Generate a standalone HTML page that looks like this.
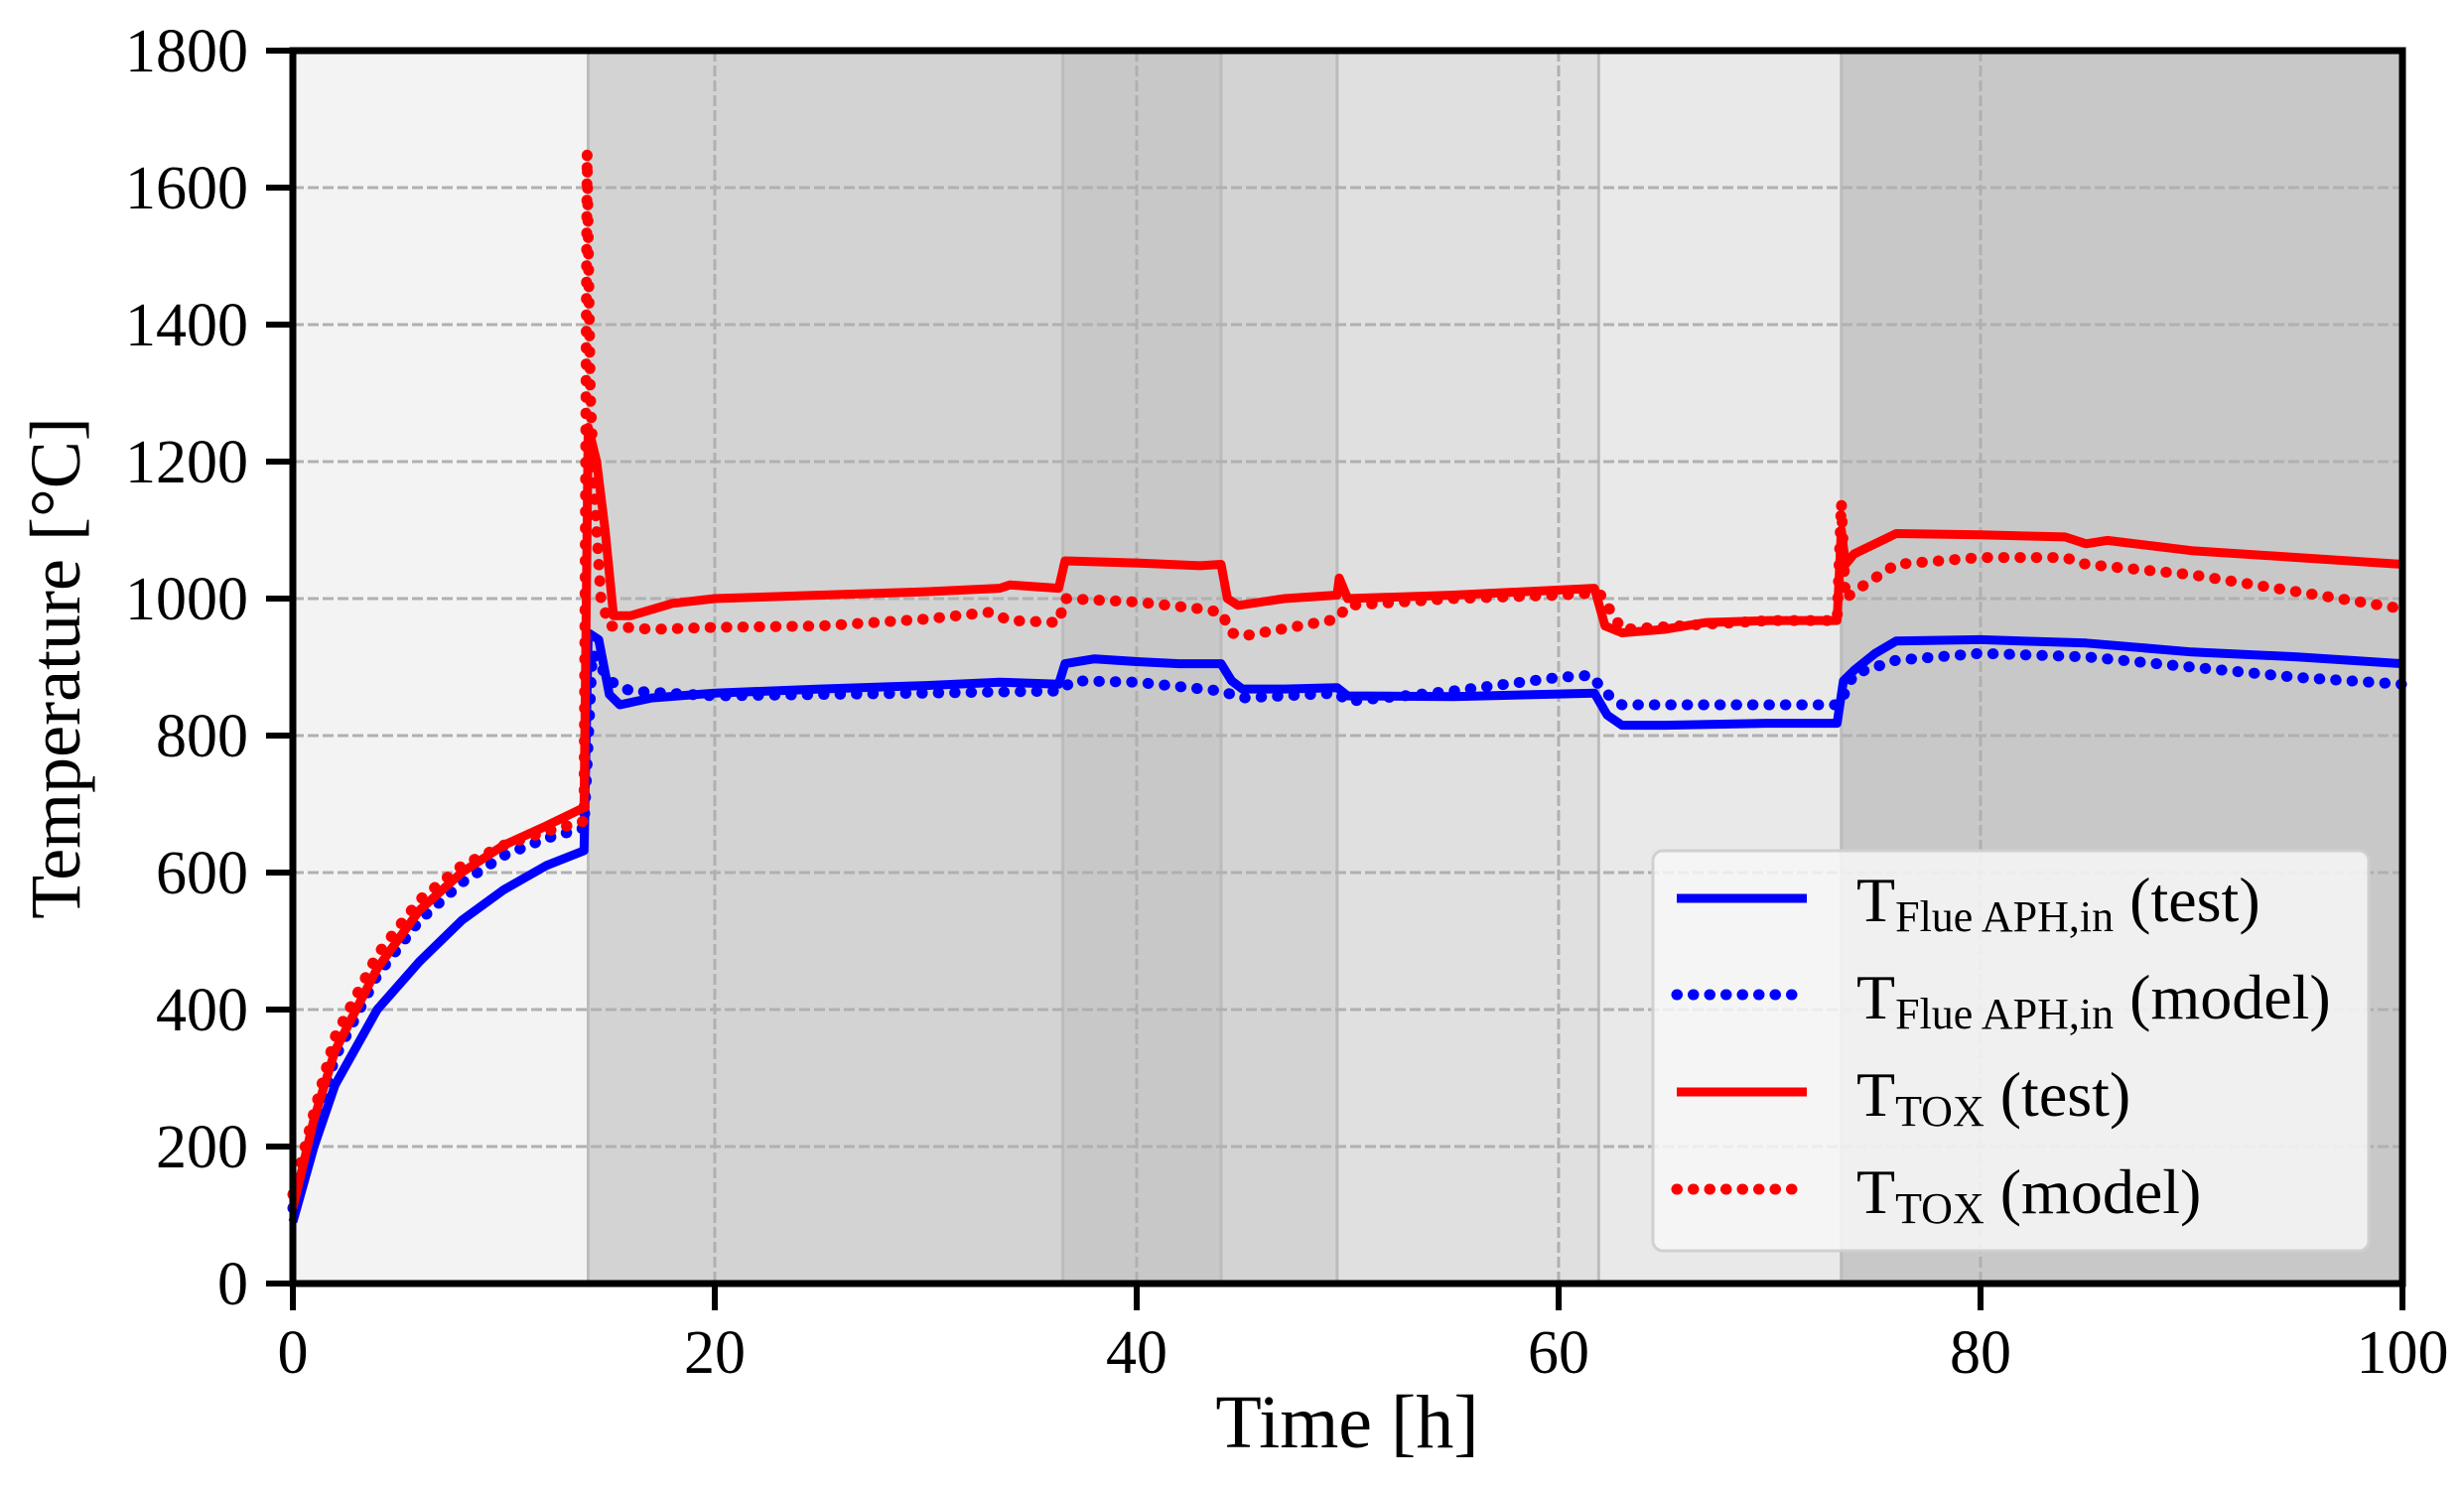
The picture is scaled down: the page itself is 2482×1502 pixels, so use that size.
<!DOCTYPE html>
<html><head><meta charset="utf-8"><style>
body{margin:0;background:#fff;}
svg{display:block;font-family:"Liberation Serif",serif;}
</style></head><body>
<svg id="chart" width="2482" height="1502" viewBox="0 0 2482 1502">
<g id="bands"></g>
<g id="grid"></g>
<g id="series"></g>
<g id="axes"></g>
<text x="1357" y="1458" font-size="76" text-anchor="middle">Time [h]</text>
<text transform="translate(80,673) rotate(-90)" font-size="72" text-anchor="middle">Temperature [°C]</text>
<g>
<rect x="1665" y="857" width="721" height="403" rx="10" fill="#f7f7f7" fill-opacity="0.85" stroke="#d0d0d0" stroke-width="3"/>
<g>
<line x1="1689" y1="905" x2="1820" y2="905" stroke="#0000ff" stroke-width="9"/>
<text x="1870" y="928" font-size="64">T<tspan font-size="44" dy="10">Flue APH,in</tspan><tspan dy="-10"> (test)</tspan></text></g>
<g>
<line x1="1689" y1="1002" x2="1820" y2="1002" stroke="#0000ff" stroke-width="11" stroke-dasharray="0.5 16" stroke-linecap="round"/>
<text x="1870" y="1026" font-size="64">T<tspan font-size="44" dy="10">Flue APH,in</tspan><tspan dy="-10"> (model)</tspan></text></g>
<g>
<line x1="1689" y1="1100" x2="1820" y2="1100" stroke="#ff0000" stroke-width="9"/>
<text x="1870" y="1124" font-size="64">T<tspan font-size="44" dy="10">TOX</tspan><tspan dy="-10"> (test)</tspan></text></g>
<g>
<line x1="1689" y1="1198" x2="1820" y2="1198" stroke="#ff0000" stroke-width="11" stroke-dasharray="0.5 16" stroke-linecap="round"/>
<text x="1870" y="1222" font-size="64">T<tspan font-size="44" dy="10">TOX</tspan><tspan dy="-10"> (model)</tspan></text></g>
</g>
</svg>
<script>
const xTicks=[0,20,40,60,80,100];
const yTicks=[0,200,400,600,800,1000,1200,1400,1600,1800];
const bandStarts=[0,14,36.5,44,49.5,61.9,73.4];
const bandEnds=[14,36.5,44,49.5,61.9,73.4,100];
const bandColors=["#f3f3f3","#d3d3d3","#c8c8c8","#d3d3d3","#e0e0e0","#e9e9e9","#c8c8c8"];
const flueTestT=[0,1,2,4,6,8,10,12,13.8,14,14.5,15,15.5,17,20,25,30,33.5,36.3,36.6,38,40,42,44,44.5,45,47,49.5,50,55,61.7,62.3,63,65,70,73.2,73.5,74,75,76,80,85,90,95,100];
const flueTestV=[90,200,290,400,470,530,575,610,632,950,940,860,845,855,862,868,873,878,875,905,912,908,905,905,880,868,868,870,858,857,862,830,815,815,818,818,880,895,920,938,940,935,922,915,905];
const flueModelT=[0,1,2,4,6,8,10,12,13.8,14.2,15,16,20,25,30,36.3,37,40,44,45,49.5,50,55,60,61.5,62.5,63,65,73.3,74,76,80,85,90,95,100];
const flueModelV=[110,230,330,450,530,585,625,650,665,920,880,865,858,860,862,865,880,878,865,855,862,850,865,885,888,855,845,845,845,890,910,920,915,900,885,875];
const toxTestT=[0,1,2,4,6,8,10,12,13.8,14,14.4,14.8,15.2,16,18,20,25,30,33.5,34,36.3,36.6,40,43,44,44.3,44.8,47,49.5,49.6,50,55,61.7,62.2,63,65,67,70,73.2,73.4,73.6,74,76,80,84,85,86,90,95,100];
const toxTestV=[110,240,340,460,545,600,640,668,695,1250,1200,1100,975,975,993,1000,1005,1010,1015,1020,1015,1055,1052,1048,1050,1000,990,1000,1005,1030,1000,1005,1015,960,950,955,965,968,968,1100,1050,1065,1095,1093,1090,1080,1085,1070,1060,1050];
const toxModelT=[0,1,2,4,6,8,10,12,13.8,13.95,14.1,14.3,14.6,15,17,20,25,30,33,34,36.3,36.6,40,43,44,44.5,45,49.5,50,55,60,61.7,62,63,70,73.2,73.4,73.6,74,76,80,84,85,90,95,100];
const toxModelV=[130,250,360,480,560,610,640,660,675,1650,1300,1150,1000,960,955,958,960,970,980,968,965,1000,995,985,980,950,945,970,990,1000,1005,1008,1005,955,968,968,1140,1000,1010,1050,1060,1060,1050,1035,1010,985];

const X0=295,X1=2420,Y0=1293,Y1=51;
const NS="http://www.w3.org/2000/svg";
function xs(t){return X0+(t-0)/(100-0)*(X1-X0);}
function ys(v){return Y0-(v-0)/(1800-0)*(Y0-Y1);}
function mk(tag,attrs,parent){const e=document.createElementNS(NS,tag);for(const k in attrs)e.setAttribute(k,attrs[k]);parent.appendChild(e);return e;}
const bands=document.getElementById('bands'),grid=document.getElementById('grid'),series=document.getElementById('series'),axes=document.getElementById('axes');
bandStarts.forEach((s,i)=>{
  const r=mk('rect',{x:xs(s),y:Y1,width:xs(bandEnds[i])-xs(s),height:Y0-Y1,fill:bandColors[i]},bands);
  
  
  if(i>0){const l=mk('line',{x1:xs(s),y1:Y1,x2:xs(s),y2:Y0,stroke:"#bcbcbc","stroke-width":3},bands);
  
  }
});
xTicks.forEach(t=>{
  if(t>0&&t<100){const g=mk('line',{x1:xs(t),y1:Y1,x2:xs(t),y2:Y0,stroke:"#b0b0b0","stroke-width":3,"stroke-dasharray":"11 4"},grid);
  
  }
});
yTicks.forEach(v=>{
  if(v>0&&v<1800){const g=mk('line',{x1:X0,y1:ys(v),x2:X1,y2:ys(v),stroke:"#b0b0b0","stroke-width":3,"stroke-dasharray":"11 4"},grid);
  
  }
});
function path(T,V,color,dotted,name){
  const d=T.map((t,i)=>(i?'L':'M')+xs(t).toFixed(1)+' '+ys(V[i]).toFixed(1)).join(' ');
  const a={d:d,fill:"none",stroke:color,"stroke-width":dotted?11:9,"stroke-linejoin":"round"};
  if(dotted){a["stroke-dasharray"]="0.5 16";a["stroke-linecap"]="round";}
  const p=mk('path',a,series);
  
  
}
path(flueTestT,flueTestV,"#0000ff",false,'flue-aph-test-line');
path(flueModelT,flueModelV,"#0000ff",true,'flue-aph-model-line');
path(toxTestT,toxTestV,"#ff0000",false,'tox-test-line');
path(toxModelT,toxModelV,"#ff0000",true,'tox-model-line');
const fr=mk('rect',{x:X0,y:Y1,width:X1-X0,height:Y0-Y1,fill:"none",stroke:"#000","stroke-width":7},axes);


xTicks.forEach(t=>{
  const l=mk('line',{x1:xs(t),y1:Y0,x2:xs(t),y2:Y0+27,stroke:"#000","stroke-width":6},axes);
  
  
  const tx=mk('text',{x:xs(t),y:1383,"font-size":62,"text-anchor":"middle"},axes);
  tx.textContent=t;
  
  
});
yTicks.forEach(v=>{
  const l=mk('line',{x1:X0-27,y1:ys(v),x2:X0,y2:ys(v),stroke:"#000","stroke-width":6},axes);
  
  
  const tx=mk('text',{x:250,y:ys(v)+21,"font-size":62,"text-anchor":"end"},axes);
  tx.textContent=v;
  
  
});
</script>
</body></html>
